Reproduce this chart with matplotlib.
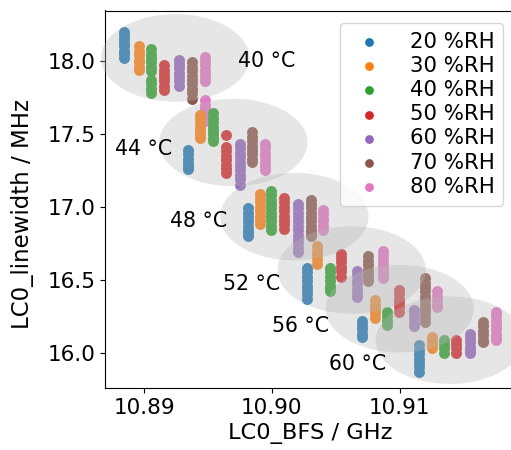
import matplotlib
matplotlib.use("Agg")
import matplotlib.pyplot as plt
from matplotlib.patches import Ellipse
from matplotlib.ticker import FormatStrFormatter

# relative humidity levels and their colours
rh_levels = [20, 30, 40, 50, 60, 70, 80]
rh_colors = ['tab:blue', 'tab:orange', 'tab:green', 'tab:red',
             'tab:purple', 'tab:brown', 'tab:pink']

temperatures = [40, 44, 48, 52, 56, 60]

# Brillouin frequency shift (GHz) of each humidity step, per temperature
bfs_40 = [10.88843, 10.88963, 10.89055, 10.89157, 10.89275, 10.89374, 10.89476]
bfs_44 = [10.89343, 10.89439, 10.89539, 10.89641, 10.89753, 10.89845, 10.89944]
bfs_48 = [10.89810, 10.89910, 10.89996, 10.90093, 10.90202, 10.90302, 10.90402]
bfs_52 = [10.90271, 10.90355, 10.90453, 10.90543, 10.90663, 10.90751, 10.90872]
bfs_56 = [10.90702, 10.90806, 10.90904, 10.90995, 10.91112, 10.91198, 10.91290]
bfs_60 = [10.91151, 10.91249, 10.91347, 10.91439, 10.91551, 10.91649, 10.91751]

# linewidth readings (MHz) of each humidity step, per temperature
lw_40 = [
    [18.20, 18.18, 18.15, 18.12, 18.10, 18.07, 18.05, 18.02],
    [18.10, 18.07, 18.04, 18.01, 17.99, 17.96, 17.94],
    [18.08, 18.05, 18.02, 17.99, 17.96, 17.93, 17.87, 17.84, 17.81, 17.78],
    [17.97, 17.94, 17.91, 17.88, 17.86, 17.83, 17.80],
    [18.01, 17.98, 17.95, 17.92, 17.89, 17.86, 17.83],
    [17.99, 17.96, 17.93, 17.90, 17.87, 17.84, 17.81, 17.78, 17.74],
    [18.03, 18.00, 17.97, 17.94, 17.91, 17.88, 17.86,
     17.73, 17.70, 17.67, 17.64, 17.61, 17.59],
]
lw_44 = [
    [17.39, 17.36, 17.33, 17.30, 17.28, 17.26],
    [17.63, 17.60, 17.57, 17.54, 17.51, 17.49, 17.47],
    [17.64, 17.61, 17.58, 17.55, 17.52, 17.50, 17.47, 17.45],
    [17.49, 17.41, 17.38, 17.35, 17.32, 17.29, 17.26, 17.23],
    [17.43, 17.40, 17.37, 17.34, 17.31, 17.28, 17.25, 17.22, 17.19, 17.15],
    [17.51, 17.48, 17.45, 17.42, 17.39, 17.36, 17.33, 17.31],
    [17.43, 17.40, 17.37, 17.34, 17.31, 17.28, 17.25],
]
lw_48 = [
    [16.99, 16.96, 16.93, 16.90, 16.87, 16.84, 16.82, 16.80],
    [17.09, 17.06, 17.03, 17.00, 16.97, 16.94, 16.91, 16.88],
    [17.11, 17.08, 17.05, 17.02, 16.99, 16.96, 16.93, 16.90, 16.87, 16.84],
    [17.06, 17.03, 17.00, 16.97, 16.94, 16.91, 16.88, 16.85],
    [17.02, 16.99, 16.96, 16.93, 16.90, 16.87, 16.84, 16.81, 16.78, 16.75, 16.72, 16.69],
    [17.05, 17.02, 16.99, 16.96, 16.93, 16.90, 16.87, 16.84, 16.82, 16.80],
    [16.98, 16.95, 16.92, 16.90, 16.87, 16.84],
]
lw_52 = [
    [16.58, 16.55, 16.52, 16.49, 16.46, 16.43, 16.40, 16.37],
    [16.73, 16.70, 16.67, 16.64, 16.61],
    [16.58, 16.55, 16.52, 16.49, 16.46, 16.44, 16.42],
    [16.68, 16.65, 16.62, 16.59, 16.56, 16.52],
    [16.56, 16.53, 16.50, 16.47, 16.44, 16.41, 16.38],
    [16.66, 16.63, 16.60, 16.57, 16.54, 16.52, 16.49],
    [16.70, 16.67, 16.64, 16.61, 16.58, 16.55, 16.53, 16.51],
]
lw_56 = [
    [16.22, 16.19, 16.16, 16.13, 16.11],
    [16.36, 16.33, 16.30, 16.27, 16.24],
    [16.28, 16.25, 16.22, 16.19],
    [16.43, 16.40, 16.37, 16.34, 16.31, 16.28],
    [16.29, 16.26, 16.23, 16.20, 16.18],
    [16.51, 16.48, 16.45, 16.42, 16.39, 16.36, 16.33, 16.30, 16.27, 16.24, 16.21],
    [16.42, 16.39, 16.36, 16.33, 16.31],
]
lw_60 = [
    [16.05, 16.02, 15.99, 15.96, 15.93, 15.90, 15.87],
    [16.11, 16.08, 16.05, 16.03],
    [16.09, 16.06, 16.03, 16.00],
    [16.09, 16.06, 16.03, 16.00],
    [16.13, 16.10, 16.07, 16.04, 16.02, 16.00],
    [16.21, 16.18, 16.15, 16.12, 16.09, 16.07],
    [16.28, 16.25, 16.22, 16.19, 16.16, 16.13, 16.11, 16.09],
]

bfs_all = [bfs_40, bfs_44, bfs_48, bfs_52, bfs_56, bfs_60]
lw_all = [lw_40, lw_44, lw_48, lw_52, lw_56, lw_60]

# grouping ellipses per temperature (centre, width, height)
ellipse_x = [10.89243, 10.89698, 10.90176, 10.90624, 10.91000, 10.91392]
ellipse_y = [18.021, 17.441, 16.933, 16.567, 16.302, 16.086]
ellipse_w = 0.0116
ellipse_h = 0.60

# temperature label anchors
label_x = [10.89737, 10.88773, 10.89204, 10.89620, 10.90004, 10.90443]
label_y = [18.000, 17.396, 16.902, 16.470, 16.182, 15.922]

FS_TEXT = 14.8
FS_TICK = 15.5
FS_LABEL = 16.5

fig = plt.figure(figsize=(5.11, 4.5), dpi=100)
ax = fig.add_axes([105 / 511, 62 / 450, 411 / 511, 377.5 / 450])

for t_idx, (bfs, lws) in enumerate(zip(bfs_all, lw_all)):
    for r_idx, (x, ys) in enumerate(zip(bfs, lws)):
        ax.scatter([x] * len(ys), ys, s=62, color=rh_colors[r_idx],
                   linewidths=0, zorder=2,
                   label=f"{rh_levels[r_idx]} %RH" if t_idx == 0 else None)

for cx, cy in zip(ellipse_x, ellipse_y):
    ax.add_patch(Ellipse((cx, cy), ellipse_w, ellipse_h,
                         facecolor=(0.72, 0.72, 0.72), alpha=0.35,
                         edgecolor='none', zorder=3, clip_on=False))

for t, lx, ly in zip(temperatures, label_x, label_y):
    ax.text(lx, ly, f"{t} °C", fontsize=FS_TEXT, ha='left', va='center', zorder=4)

ax.set_xlim(10.88694, 10.91910)
ax.set_ylim(15.758, 18.346)
ax.set_xticks([10.89, 10.90, 10.91])
ax.set_yticks([16.0, 16.5, 17.0, 17.5, 18.0])
ax.xaxis.set_major_formatter(FormatStrFormatter('%.2f'))
ax.yaxis.set_major_formatter(FormatStrFormatter('%.1f'))
ax.tick_params(labelsize=FS_TICK)
ax.set_xlabel("LC0_BFS / GHz", fontsize=16.2, labelpad=4)
ax.set_ylabel("LC0_linewidth / MHz", fontsize=FS_LABEL)
ax.yaxis.set_label_coords(-0.172, 0.46)

fig.legend(loc='upper right', bbox_to_anchor=(503 / 511, 1 - 23 / 450),
           borderaxespad=0, fontsize=15.3, labelspacing=0.2,
           handletextpad=0.9, scatterpoints=1, markerscale=0.8)

fig.savefig("out.png", dpi=100)
